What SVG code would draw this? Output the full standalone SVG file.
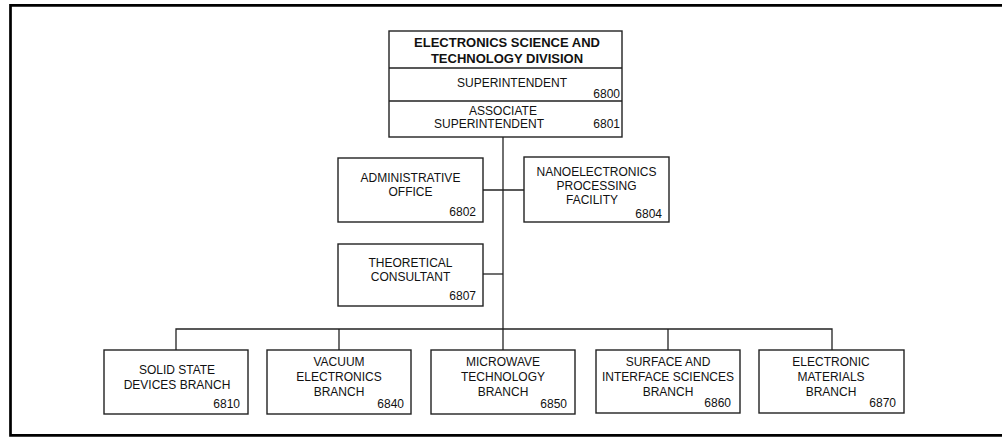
<svg xmlns="http://www.w3.org/2000/svg" width="1002" height="439" viewBox="0 0 1002 439">
<style>
text{font-family:"Liberation Sans",Arial,sans-serif;font-size:12px;fill:#111;}
.t{text-anchor:middle;}
.n{text-anchor:end;}
.b{font-weight:bold;font-size:13px;}
.box{fill:#fff;stroke:#222;stroke-width:1.4;}
.ln{fill:none;stroke:#222;stroke-width:1.3;}
</style>
<rect width="1002" height="439" fill="#fff"/>
<path d="M1010,5.3 H10.5 V435.3 H1010" fill="none" stroke="#000" stroke-width="2.7"/>
<g id="connectors">
<path class="ln" d="M503,137 V329"/>
<path class="ln" d="M483,190 H524"/>
<path class="ln" d="M483,274 H503"/>
<path class="ln" d="M176,350 V329 H832 V350"/>
<path class="ln" d="M339,329 V350"/>
<path class="ln" d="M503,329 V350"/>
<path class="ln" d="M668,329 V350"/>
</g>
<g id="division">
<rect class="box" x="389" y="31" width="233" height="106"/>
<path class="ln" d="M389,68 H622 M389,101 H622"/>
<text class="t b" x="507" y="47">ELECTRONICS SCIENCE AND</text>
<text class="t b" x="507" y="63">TECHNOLOGY DIVISION</text>
<text class="t" x="512" y="87">SUPERINTENDENT</text>
<text class="n" x="620" y="98">6800</text>
<text class="t" x="503" y="115">ASSOCIATE</text>
<text class="t" x="489" y="128">SUPERINTENDENT</text>
<text class="n" x="620" y="128">6801</text>
</g>
<g id="admin">
<rect class="box" x="338" y="158" width="145" height="64"/>
<text class="t" x="410.5" y="182">ADMINISTRATIVE</text>
<text class="t" x="410.5" y="196">OFFICE</text>
<text class="n" x="476" y="216">6802</text>
</g>
<g id="nano">
<rect class="box" x="524" y="157" width="145" height="65"/>
<text class="t" x="596.5" y="176">NANOELECTRONICS</text>
<text class="t" x="596.5" y="190">PROCESSING</text>
<text class="t" x="592" y="204">FACILITY</text>
<text class="n" x="662" y="218">6804</text>
</g>
<g id="theoretical">
<rect class="box" x="338" y="244" width="145" height="62"/>
<text class="t" x="410.5" y="267">THEORETICAL</text>
<text class="t" x="410.5" y="281">CONSULTANT</text>
<text class="n" x="476" y="300">6807</text>
</g>
<g id="b6810">
<rect class="box" x="104" y="350" width="144" height="64"/>
<text class="t" x="177" y="374">SOLID STATE</text>
<text class="t" x="177" y="389">DEVICES BRANCH</text>
<text class="n" x="240" y="408">6810</text>
</g>
<g id="b6840">
<rect class="box" x="267" y="350" width="144" height="64"/>
<text class="t" x="339" y="366">VACUUM</text>
<text class="t" x="339" y="381">ELECTRONICS</text>
<text class="t" x="339" y="396">BRANCH</text>
<text class="n" x="404" y="408">6840</text>
</g>
<g id="b6850">
<rect class="box" x="431" y="350" width="144" height="64"/>
<text class="t" x="503" y="366">MICROWAVE</text>
<text class="t" x="503" y="381">TECHNOLOGY</text>
<text class="t" x="503" y="396">BRANCH</text>
<text class="n" x="567" y="408">6850</text>
</g>
<g id="b6860">
<rect class="box" x="596" y="350" width="144" height="63"/>
<text class="t" x="668" y="366">SURFACE AND</text>
<text class="t" x="668" y="381">INTERFACE SCIENCES</text>
<text class="t" x="668" y="396">BRANCH</text>
<text class="n" x="731" y="407">6860</text>
</g>
<g id="b6870">
<rect class="box" x="759" y="350" width="145" height="63"/>
<text class="t" x="831" y="366">ELECTRONIC</text>
<text class="t" x="831" y="381">MATERIALS</text>
<text class="t" x="831" y="396">BRANCH</text>
<text class="n" x="896" y="407">6870</text>
</g>
</svg>
